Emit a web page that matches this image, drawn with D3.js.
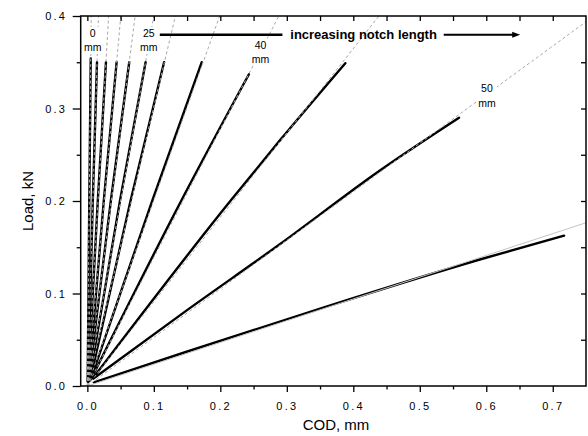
<!DOCTYPE html>
<html>
<head>
<meta charset="utf-8">
<script src="https://cdn.jsdelivr.net/npm/d3@7"></script>
<style>
  body { margin: 0; background: #fff; }
  text { font-family: "Liberation Sans", Arial, Helvetica, sans-serif; fill: #000; }
</style>
</head>
<body>
<svg id="chart" width="588" height="436"></svg>
<script>
// Load vs. crack-opening displacement for specimens of increasing notch length
const notchLengths = [0, 5, 10, 15, 20, 25, 30, 35, 40, 45, 50, 55];

// Slope (kN/mm) of the linear fit through the origin for each notch length
const fitSlopes = [69, 24, 12.5, 7.95, 5.56, 4.0, 3.02, 2.01, 1.389, 0.912, 0.525, 0.2353];

// Measured COD (mm) readings along each load curve
const codReadings = [
  [0.0005, 0.0029, 0.0051],
  [0.001, 0.0082, 0.0145],
  [0.001, 0.0157, 0.028],
  [0.002, 0.0247, 0.044],
  [0.002, 0.0353, 0.063],
  [0.003, 0.049, 0.0876],
  [0.004, 0.0649, 0.1154],
  [0.005, 0.0975, 0.172],
  [0.006, 0.141, 0.243],
  [0.008, 0.215, 0.289, 0.388],
  [0.009, 0.150, 0.289, 0.439, 0.559],
  [0.010, 0.147, 0.356, 0.589, 0.717]
];

// Matching load (kN) readings
const loadReadings = [
  [0.005, 0.20, 0.354],
  [0.005, 0.20, 0.350],
  [0.005, 0.20, 0.350],
  [0.005, 0.20, 0.350],
  [0.005, 0.20, 0.350],
  [0.006, 0.20, 0.350],
  [0.006, 0.20, 0.350],
  [0.007, 0.20, 0.350],
  [0.008, 0.20, 0.337],
  [0.008, 0.20, 0.265, 0.349],
  [0.008, 0.082, 0.153, 0.2325, 0.290],
  [0.004, 0.0365, 0.0850, 0.1365, 0.1625]
];

// Notch lengths that carry a label, and where each label sits (COD, load)
const labelledNotches = [0, 25, 40, 50];
const labelCod = [0.0081, 0.0925, 0.2604, 0.601];
const labelLoad = [0.3731, 0.3731, 0.3605, 0.3132];

const xMajorTicks = [0, 0.1, 0.2, 0.3, 0.4, 0.5, 0.6, 0.7];
const yMajorTicks = [0, 0.1, 0.2, 0.3, 0.4];
const xAllTicks = d3.range(0, 16).map(i => +(i * 0.05).toFixed(2));
const yAllTicks = d3.range(0, 9).map(i => +(i * 0.05).toFixed(2));

const svg = d3.select("#chart");
const plotLeft = 80.7, plotRight = 586, plotTop = 16, plotBottom = 386;

const x = d3.scaleLinear().domain([-0.01, 0.75]).range([plotLeft, plotRight]);
const y = d3.scaleLinear().domain([0, 0.4]).range([plotBottom, plotTop]);
const fmt = d3.format(".1f");
const isMajor = (v, majors) => majors.some(m => Math.abs(m - v) < 1e-9);

svg.append("defs").append("clipPath").attr("id", "plot-clip")
  .append("rect").attr("x", plotLeft).attr("y", plotTop)
  .attr("width", plotRight - plotLeft).attr("height", plotBottom - plotTop);

const plot = svg.append("g").attr("clip-path", "url(#plot-clip)");

// measured curves
const curveLine = d3.line().x(d => x(d[0])).y(d => y(d[1])).curve(d3.curveMonotoneX);
const fitLine = d3.line().x(d => x(d[0])).y(d => y(d[1]));
const curves = codReadings.map((cods, i) => cods.map((c, j) => [c, loadReadings[i][j]]));
plot.selectAll("path.curve").data(curves).join("path")
  .attr("class", "curve")
  .attr("d", curveLine)
  .attr("fill", "none")
  .attr("stroke", "#000")
  .attr("stroke-width", 2.4)
  .attr("stroke-linejoin", "round")
  .attr("stroke-linecap", "round");

// linear fits through the origin, running out to the edge of the plot
const fits = fitSlopes.map(s => {
  const xEnd = Math.min(0.75, 0.4 / s);
  return [[0, 0], [xEnd, s * xEnd]];
});
plot.selectAll("path.fit").data(fits).join("path")
  .attr("class", "fit")
  .attr("d", fitLine)
  .attr("fill", "none")
  .attr("stroke", (d, i) => i === fits.length - 1 ? "#c4c4c4" : "#a8a8a8")
  .attr("stroke-width", 1)
  .attr("stroke-dasharray", (d, i) => i === fits.length - 1 ? null : "3,2.5");

// notch-length labels on a white backing
const labels = svg.append("g").selectAll("g").data(labelledNotches).join("g")
  .attr("transform", (d, i) => `translate(${x(labelCod[i])},${y(labelLoad[i])})`);
labels.append("rect")
  .attr("x", -10).attr("y", -14).attr("width", 20).attr("height", 27)
  .attr("fill", "#fff");
labels.append("text").attr("text-anchor", "middle").attr("y", -4)
  .style("font-size", "10.5px").text(d => d);
labels.append("text").attr("text-anchor", "middle").attr("y", 10.5)
  .style("font-size", "10.5px").text("mm");

// "increasing notch length" arrow
const arrowLoad = 0.3798;
const ay = y(arrowLoad);
svg.append("line")
  .attr("x1", x(0.109)).attr("x2", x(0.2934))
  .attr("y1", ay).attr("y2", ay)
  .attr("stroke", "#000").attr("stroke-width", 2.6);
svg.append("text")
  .attr("x", x(0.3052)).attr("y", ay + 4.6)
  .style("font-size", "13px").style("font-weight", "bold")
  .text("increasing notch length");
const tipX = x(0.651);
svg.append("line")
  .attr("x1", x(0.536)).attr("x2", tipX - 6)
  .attr("y1", ay).attr("y2", ay)
  .attr("stroke", "#000").attr("stroke-width", 2);
svg.append("path")
  .attr("d", `M${tipX},${ay} L${tipX - 8},${ay - 3} L${tipX - 8},${ay + 3} Z`)
  .attr("fill", "#000");

// axes
function styleAxis(g) {
  g.select(".domain").remove();
  g.selectAll(".tick line").attr("stroke", "#000").attr("stroke-width", 1.3);
  g.selectAll(".tick text")
    .style("font-size", "11px")
    .style("letter-spacing", "2.2px")
    .attr("fill", "#000");
}

svg.append("g").attr("transform", `translate(0,${plotBottom})`)
  .call(d3.axisBottom(x).tickValues(xAllTicks.filter(v => !isMajor(v, xMajorTicks) && v < 0.75))
    .tickSize(3.5).tickFormat(""))
  .call(styleAxis);
svg.append("g").attr("transform", `translate(0,${plotBottom})`)
  .call(d3.axisBottom(x).tickValues(xMajorTicks).tickSize(6).tickPadding(10).tickFormat(fmt))
  .call(styleAxis);

svg.append("g").attr("transform", `translate(${plotLeft},0)`)
  .call(d3.axisLeft(y).tickValues(yAllTicks.filter(v => !isMajor(v, yMajorTicks)))
    .tickSize(4).tickFormat(""))
  .call(styleAxis);
svg.append("g").attr("transform", `translate(${plotLeft},0)`)
  .call(d3.axisLeft(y).tickValues(yMajorTicks).tickSize(8).tickPadding(5.5).tickFormat(fmt))
  .call(styleAxis);

svg.append("g").attr("transform", `translate(0,${plotTop})`)
  .call(d3.axisTop(x).tickValues(xAllTicks.filter(v => v < 0.75)).tickSize(-5).tickFormat(""))
  .call(styleAxis);
svg.append("g").attr("transform", `translate(${plotRight},0)`)
  .call(d3.axisRight(y).tickValues(yAllTicks.filter(v => v > 0 && v < 0.4)).tickSize(-5).tickFormat(""))
  .call(styleAxis);

// frame
svg.append("rect")
  .attr("x", plotLeft).attr("y", plotTop)
  .attr("width", plotRight - plotLeft).attr("height", plotBottom - plotTop)
  .attr("fill", "none").attr("stroke", "#000").attr("stroke-width", 1.5);

// axis titles
svg.append("text")
  .attr("x", 336).attr("y", 430)
  .attr("text-anchor", "middle")
  .style("font-size", "15px")
  .text("COD, mm");
svg.append("text")
  .attr("transform", `translate(33,${(plotTop + plotBottom) / 2}) rotate(-90)`)
  .attr("text-anchor", "middle")
  .style("font-size", "15px")
  .text("Load, kN");
</script>
</body>
</html>
